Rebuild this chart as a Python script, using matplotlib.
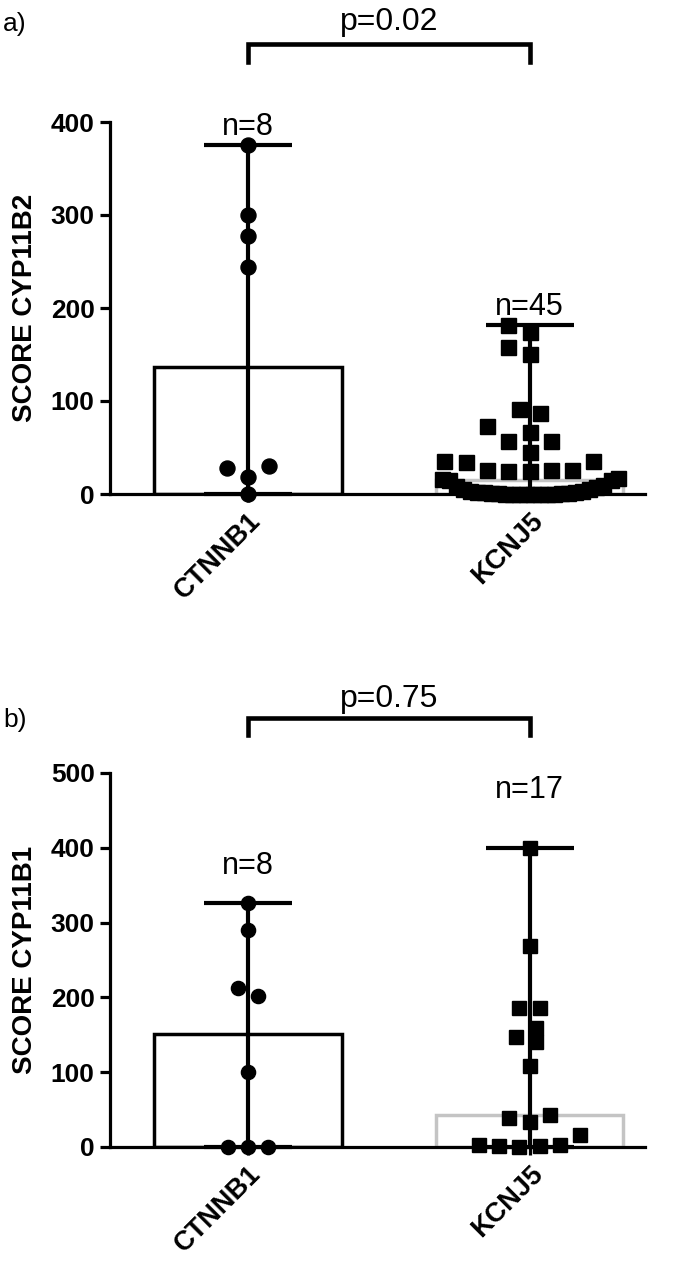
import numpy as np
import matplotlib
matplotlib.use("Agg")
import matplotlib.pyplot as plt
import matplotlib.transforms as mtransforms

# ---------------- data ----------------
groups = ["CTNNB1", "KCNJ5"]

a_ctnnb1 = [375, 300, 277, 244, 30, 28, 18, 0]
a_kcnj5 = [182, 174, 158, 151, 91, 87, 73, 67, 57, 57, 45, 36, 34, 36,
           25, 25, 26, 26, 26, 15, 15, 16, 17,
           0, 0, 0, 0, 0, 0, 0, 0, 1, 1, 1, 1, 2, 2, 2, 3, 3, 5, 5, 7, 9, 10]
b_ctnnb1 = [326, 290, 212, 202, 100, 0, 0, 0]
b_kcnj5 = [400, 269, 186, 186, 159, 147, 140, 108, 43, 39, 33, 16, 3, 1, 0, 1, 3]

a_n = ["n=8", "n=45"]
b_n = ["n=8", "n=17"]
a_p = "p=0.02"
b_p = "p=0.75"
a_ylabel = "SCORE CYP11B2"
b_ylabel = "SCORE CYP11B1"
a_yticks = [0, 100, 200, 300, 400]
b_yticks = [0, 100, 200, 300, 400, 500]

# ---------------- style ----------------
plt.rcParams['font.family'] = ['Liberation Sans', 'DejaVu Sans']
W, H = 675, 1264
fig = plt.figure(figsize=(W / 100, H / 100), dpi=100)

LW = 2.3
bar_edges = ["black", "#c4c4c4"]
markers = ["o", "s"]


def swarm_offsets(ax, xc, vals, size_px, max_half_px):
    """Scatter layout: the lowest row is spread (and compressed if crowded)
    symmetrically; the remaining points are placed beeswarm-style, nearest the
    centre without overlapping, then small clusters are re-centred."""
    vals = np.asarray(vals, float)
    pts = ax.transData.transform(np.column_stack([np.full(len(vals), xc), vals]))
    yp = pts[:, 1]
    order = list(np.argsort(vals, kind="stable"))
    s0 = size_px * 1.42
    offs = np.zeros(len(vals))
    placed = []  # (x, y, sx)
    ymin = yp[order[0]]
    bottom = [i for i in order if yp[i] - ymin < size_px * 1.1]
    rest = [i for i in order if i not in bottom]
    n = len(bottom)
    step = s0 if n == 1 else min(s0, 2 * max_half_px / (n - 1))
    pos = (np.arange(n) - (n - 1) / 2) * step
    pos_order = sorted(pos, key=lambda p: (round(abs(p), 6), p))
    for idx, p in zip(bottom, pos_order):
        offs[idx] = p
        placed.append((p, yp[idx], step))
    h = s0 / 2
    cands = [0.0]
    for k in range(1, 40):
        cands += [-k * h, k * h]
    for i in rest:
        for c in cands:
            ok = True
            for (xo, yo, so) in placed:
                if abs(c - xo) < min(s0, so) * 0.99 and abs(yp[i] - yo) < size_px:
                    ok = False
                    break
            if ok:
                break
        offs[i] = c
        placed.append((c, yp[i], s0))
    # re-centre small clusters of touching points (excluding the bottom row)
    seen = set()
    for i in rest:
        if i in seen:
            continue
        cluster, stack = [], [i]
        seen.add(i)
        while stack:
            j = stack.pop()
            cluster.append(j)
            for k in rest:
                if k not in seen and abs(offs[k] - offs[j]) <= s0 * 1.01 \
                        and abs(yp[k] - yp[j]) < size_px:
                    seen.add(k)
                    stack.append(k)
        if 1 < len(cluster) <= 3:
            offs[cluster] -= np.mean(offs[cluster])
    p0 = ax.transData.transform((0, 0))[0]
    p1 = ax.transData.transform((1, 0))[0]
    return offs / (p1 - p0)


def panel(rect, data_sets, ylim, yticks, ylabel, nlabels, n_offsets, ptext,
          br_y, br_leg, p_y, letter, letter_y, msize):
    ax = fig.add_axes(rect)
    ax.set_xlim(-0.49, 1.41)
    ax.set_ylim(0, ylim)
    for s in ["top", "right"]:
        ax.spines[s].set_visible(False)
    for s in ["left", "bottom"]:
        ax.spines[s].set_linewidth(LW)
    ax.set_yticks(yticks)
    ax.set_yticklabels([str(t) for t in yticks], fontsize=19, fontweight="bold")
    ax.set_xticks([0, 1])
    ax.set_xticklabels(groups, fontsize=19.5, fontweight="bold", rotation=45,
                       ha="right", rotation_mode="anchor")
    ax.tick_params(axis="y", length=7, width=LW, pad=4)
    ax.tick_params(axis="x", length=6, width=LW, pad=4)
    ax.set_ylabel(ylabel, fontsize=20, fontweight="bold", labelpad=9)

    for i, vals in enumerate(data_sets):
        v = np.asarray(vals, float)
        med = np.median(v)
        ax.bar(i, med, width=0.667, facecolor="white", edgecolor=bar_edges[i],
               linewidth=LW + 0.2, zorder=1)
        ax.errorbar(i, med, yerr=[[med - v.min()], [v.max() - med]], fmt="none",
                    ecolor="black", elinewidth=3, capsize=32, capthick=3,
                    zorder=3, clip_on=False)
        offs = swarm_offsets(ax, i, v, msize * 1.389, 88)
        ax.plot(i + offs, v, linestyle="none", marker=markers[i], markersize=msize,
                color="black", zorder=4, clip_on=False)
        ax.annotate(nlabels[i], (i, v.max()), xytext=(0, n_offsets[i]),
                    textcoords="offset points", ha="center", va="bottom",
                    fontsize=22, zorder=5)

    trans = mtransforms.blended_transform_factory(ax.transData, ax.transAxes)
    ax.plot([0, 0, 1, 1], [br_leg, br_y, br_y, br_leg], color="black",
            linewidth=3.3, transform=trans, clip_on=False, solid_joinstyle="miter")
    ax.text(0.5, p_y, ptext, transform=trans, ha="center", va="center", fontsize=23)
    fig.text(3 / W, letter_y, letter, fontsize=19, ha="left", va="center")
    return ax


panel([110 / W, 1 - 494 / H, 535 / W, 372 / H], [a_ctnnb1, a_kcnj5], 400, a_yticks,
      a_ylabel, a_n, [2, 2], a_p, 1.2097, 1.161, 1.268, "a)", 1 - 24 / H, 10.8)
panel([110 / W, 1 - 1147 / H, 535 / W, 374 / H], [b_ctnnb1, b_kcnj5], 500, b_yticks,
      b_ylabel, b_n, [16, 31], b_p, 1.147, 1.102, 1.197, "b)", 1 - 720 / H, 10.2)

fig.savefig("out.png", dpi=100)
